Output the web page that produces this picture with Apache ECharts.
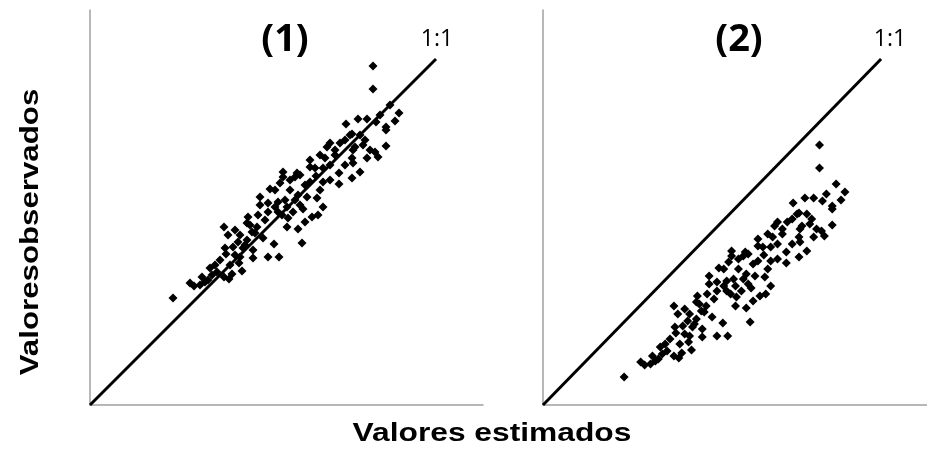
<!DOCTYPE html>
<html>
<head>
<meta charset="utf-8">
<script src="https://cdn.jsdelivr.net/npm/echarts@6/dist/echarts.min.js"></script>
<style>html,body{margin:0;padding:0;background:#fff}#c{width:927px;height:450px}</style>
</head>
<body>
<div id="c"></div>
<script>
// Panel titles and texts
var panelTitles = ['(1)', '(2)'];
var lineLabel = '1:1';
var xName = 'Valores estimados';
var yName = 'Valoresobservados';

// 1:1 reference line (estimated = observed)
var oneToOne = [[0, 0], [346, 346]];

// Panel (1): estimated (x) vs observed (y)
var x1 = [283,283,309,268,277,286,256,296,296,262,237,273,296,263,280,285,220,235,262,277,288,240,263,270,225,233,249,262,249,193,207,193,205,226,233,220,180,200,170,208,217,227,233,188,178,170,197,213,188,203,192,215,222,228,178,168,158,198,197,208,212,157,167,134,145,138,150,162,173,148,157,135,143,153,163,136,150,163,178,189,184,149,140,152,120,127,142,122,134,118,100,104,83,115,139,185,190,215,205,160,175,230,245,255,260,250,270,240,195,185,165,155,145,130,125,110,112,200,210,220,245,290,300,305,275,265,255,240,230,210];
var y1 = [339,316,292,286,286,283,281,278,275,271,258,260,259,255,255,253,245,247,247,247,248,240,242,233,237,237,232,227,221,233,232,228,228,229,223,223,216,215,208,210,208,207,198,203,202,200,198,196,193,193,190,183,188,190,193,190,188,187,178,176,162,182,178,178,175,170,170,173,167,163,165,157,158,157,155,151,148,147,148,148,161,142,140,134,137,133,131,130,128,125,122,119,107,123,126,215,222,220,205,180,185,250,255,265,270,262,270,262,205,198,172,160,150,145,140,120,128,225,230,238,250,290,300,284,265,258,240,225,215,200];

// Panel (2): estimated (x) vs observed (y)
var x2 = [283,283,309,268,277,286,256,296,296,262,237,273,296,263,280,285,220,235,262,277,288,240,263,270,225,233,249,262,249,193,207,193,205,226,233,220,180,200,170,208,217,227,233,188,178,170,197,213,188,203,192,215,222,228,178,168,158,198,197,208,212,157,167,134,145,138,150,162,173,148,157,135,143,153,163,136,150,163,178,189,184,149,140,152,120,127,142,122,134,118,100,104,83,115,139,185,190,215,205,160,175,230,245,255,260,250,270,240,195,185,165,155,145,130,125,110,112,200,210,220,245,290,300,305,275,265,255,240,230,210];
var y2 = [260,237,213,207,207,204,202,199,196,192,179,181,180,176,176,174,166,168,168,168,169,161,163,154,158,158,153,148,142,154,153,149,149,150,144,144,137,136,129,131,129,128,119,124,123,121,119,117,114,114,111,104,109,111,114,111,109,108,99,97,83,103,99,99,96,91,91,94,88,84,86,78,79,78,76,72,69,68,69,69,82,63,61,55,58,54,52,51,49,46,43,40,28,44,47,136,143,141,126,101,106,171,176,186,191,183,191,183,126,119,93,81,71,66,61,41,49,146,151,159,171,211,221,205,186,179,161,146,136,121];

function pairs(xs, ys) { return xs.map(function (v, i) { return [v, ys[i]]; }); }

var axisCommon = {
  type: 'value',
  axisLine: { show: true, lineStyle: { color: '#a0a0a0', width: 1.5 } },
  axisTick: { show: false },
  axisLabel: { show: false },
  splitLine: { show: false }
};
function xa(i) { return Object.assign({}, axisCommon, { gridIndex: i, min: 0, max: 393 }); }
function ya(i) { return Object.assign({}, axisCommon, { gridIndex: i, min: 0, max: 395 }); }

function scatter(i, data) {
  return { type: 'scatter', xAxisIndex: i, yAxisIndex: i, data: data, symbol: 'diamond', symbolSize: 9,
    itemStyle: { color: '#000', opacity: 1 }, silent: true, z: 3 };
}
function refLine(i) {
  return { type: 'line', xAxisIndex: i, yAxisIndex: i, data: oneToOne, symbol: 'none',
    lineStyle: { color: '#000', width: 3 }, silent: true, z: 2 };
}
function txt(x, y, s, size, weight, family, rot, sx) {
  return { type: 'text', x: x, y: y, rotation: rot || 0, scaleX: sx || 1,
    style: { text: s, fontSize: size, fontWeight: weight, fontFamily: family, fill: '#000', align: 'center', verticalAlign: 'middle' } };
}
var sans = '"Open Sans", "Noto Sans", sans-serif';
var arial = '"Liberation Sans", Arial, sans-serif';

var chart = echarts.init(document.getElementById('c'), null, { renderer: 'canvas' });
chart.setOption({
  animation: false,
  backgroundColor: '#fff',
  grid: [
    { left: 90, top: 10, width: 393, height: 395 },
    { left: 543, top: 10, width: 393, height: 395 }
  ],
  xAxis: [xa(0), xa(1)],
  yAxis: [ya(0), ya(1)],
  series: [refLine(0), scatter(0, pairs(x1, y1)), refLine(1), scatter(1, pairs(x2, y2))],
  graphic: [
    txt(285, 40, panelTitles[0], 38, 'bold', sans),
    txt(739, 40, panelTitles[1], 38, 'bold', sans),
    txt(437, 39, lineLabel, 23, 'normal', sans),
    txt(890, 39, lineLabel, 23, 'normal', sans),
    txt(492, 434, xName, 25, 'bold', arial, 0, 1.27),
    txt(31, 232, yName, 25, 'bold', arial, Math.PI / 2, 1.25)
  ]
});
</script>
</body>
</html>
